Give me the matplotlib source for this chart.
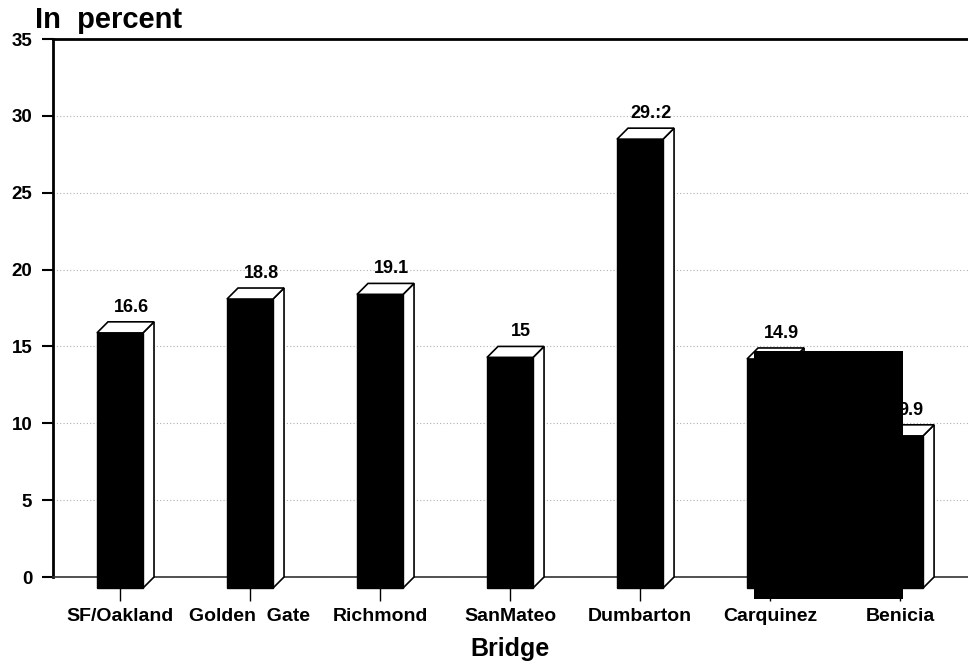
import matplotlib
matplotlib.use("Agg")
import matplotlib.pyplot as plt
from matplotlib.patches import Polygon, Rectangle

plt.rcParams['font.family'] = ['Liberation Sans', 'DejaVu Sans']
plt.rcParams['font.weight'] = 'bold'

# Share of traffic by bridge, in percent
bridges = ["SF/Oakland", "Golden  Gate", "Richmond", "SanMateo",
           "Dumbarton", "Carquinez", "Benicia"]
values = [16.6, 18.8, 19.1, 15.0, 29.2, 14.9, 9.9]
value_labels = ["16.6", "18.8", "19.1", "15", "29.:2", "14.9", "9.9"]
y_ticks = [0, 5, 10, 15, 20, 25, 30, 35]

W, H = 968, 669
fig = plt.figure(figsize=(W / 100, H / 100), dpi=100)
ax = fig.add_axes([53 / W, 92 / H, 915 / W, 538 / H])

ax.set_xlim(-0.515, 6.523)
ax.set_ylim(0, 35)

# 3-D extrusion of each bar (depth offset in data units)
half_w = 0.177
dx = 0.085
dy = 0.72

for i, v in enumerate(values):
    xl, xr = i - half_w, i + half_w
    front = Rectangle((xl, -dy), 2 * half_w, v, facecolor='black',
                      edgecolor='black', lw=1, zorder=3, clip_on=False)
    top = Polygon([(xl, v - dy), (xl + dx, v), (xr + dx, v), (xr, v - dy)],
                  closed=True, facecolor='white', edgecolor='black', lw=1.2,
                  zorder=2.9, clip_on=False)
    side = Polygon([(xr, v - dy), (xr + dx, v), (xr + dx, 0), (xr, -dy)],
                   closed=True, facecolor='white', edgecolor='black', lw=1.2,
                   zorder=2.9, clip_on=False)
    ax.add_patch(side)
    ax.add_patch(top)
    ax.add_patch(front)
    ax.annotate(value_labels[i], xy=(i + dx, v), xytext=(0, 4.5),
                textcoords='offset points', ha='center', va='bottom',
                fontsize=13, fontweight='bold', zorder=4)

# solid black block over the Carquinez/Benicia area
ax.add_patch(Rectangle((4.877, -1.43), 1.146, 16.13, facecolor='black',
                       edgecolor='none', zorder=5, clip_on=False))

ax.set_yticks(y_ticks)
ax.set_yticklabels([str(t) for t in y_ticks], fontsize=13.5, fontweight='bold')
ax.set_xticks(range(len(bridges)))
ax.set_xticklabels(bridges, fontsize=14, fontweight='bold')

ax.tick_params(axis='y', direction='out', length=8, width=1.5, pad=7,
               color='black')
ax.tick_params(axis='x', direction='out', length=17, width=1, pad=5,
               color='black')

ax.set_axisbelow(True)
ax.yaxis.grid(True, linestyle=(0, (1, 2)), color='#b0b0b0', lw=0.8)
ax.xaxis.grid(False)

ax.spines['right'].set_visible(False)
ax.spines['left'].set_linewidth(2)
ax.spines['top'].set_linewidth(2)
ax.spines['bottom'].set_linewidth(1.2)
ax.spines['bottom'].set_color('#333333')

ax.set_xlabel("Bridge", fontsize=18, fontweight='bold', labelpad=9)
fig.text(35 / W, 1 - 28 / H, "In  percent", fontsize=21, fontweight='bold',
         ha='left', va='baseline')

fig.savefig("out.png", dpi=100, facecolor='white')
